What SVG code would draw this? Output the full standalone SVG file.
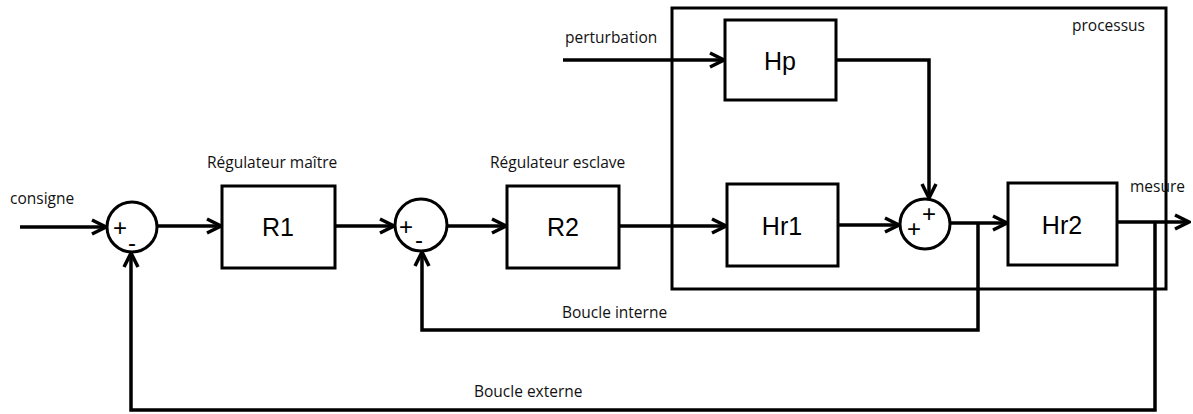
<svg xmlns="http://www.w3.org/2000/svg" width="1193" height="414" viewBox="0 0 1193 414">
<style>
.box{fill:#fff;stroke:#000;stroke-width:3}
.sum{fill:#fff;stroke:#000;stroke-width:3}
.ln{fill:none;stroke:#000;stroke-width:3.5;stroke-linejoin:miter}
.lbl{font-family:"Liberation Sans",Arial,sans-serif;font-size:25px;fill:#000;text-anchor:middle}
.sm{font-family:"Open Sans","Liberation Sans",sans-serif;font-size:15.5px;fill:#111}
.sg{font-family:"Liberation Sans",Arial,sans-serif;font-size:24px;fill:#000;text-anchor:middle}
</style>
<defs>
<marker id="arr" viewBox="-16 -9 18 18" markerWidth="18" markerHeight="18" refX="0" refY="0" orient="auto" markerUnits="userSpaceOnUse">
<path d="M-14,-7 L0,0 L-14,7" fill="none" stroke="#000" stroke-width="3.5"/>
</marker>
</defs>
<rect width="1193" height="414" fill="#fff"/>
<g id="processus">
<rect x="672" y="8" width="494" height="281" fill="none" stroke="#000" stroke-width="3"/>
<text class="sm" x="1072" y="31">processus</text>
</g>
<g id="connectors">
<path class="ln" d="M20,227 L106,227" marker-end="url(#arr)"/>
<path class="ln" d="M157,226 L221,226" marker-end="url(#arr)"/>
<path class="ln" d="M336,226 L394,226" marker-end="url(#arr)"/>
<path class="ln" d="M448,226 L506,226" marker-end="url(#arr)"/>
<path class="ln" d="M620,226 L726,226" marker-end="url(#arr)"/>
<path class="ln" d="M839,225 L899,225" marker-end="url(#arr)"/>
<path class="ln" d="M563,60 L724,60" marker-end="url(#arr)"/>
<path class="ln" d="M837,60 L929,60 L929,198" marker-end="url(#arr)"/>
<path class="ln" d="M951,223 L1007,223" marker-end="url(#arr)"/>
<path class="ln" d="M1118,222 L1189,222" marker-end="url(#arr)"/>
<path class="ln" d="M978,223 L978,330 L422,330 L422,252" marker-end="url(#arr)"/>
<path class="ln" d="M1155,222 L1155,410 L131,410 L131,253" marker-end="url(#arr)"/>
</g>
<g id="sum1">
<circle class="sum" cx="132" cy="227" r="25"/>
<text class="sg" x="120" y="236">+</text>
<text class="sg" x="132" y="251">-</text>
</g>
<g id="sum2">
<circle class="sum" cx="421" cy="225" r="26"/>
<text class="sg" x="406" y="235">+</text>
<text class="sg" x="419" y="248">-</text>
</g>
<g id="sum3">
<circle class="sum" cx="925" cy="224" r="25"/>
<text class="sg" x="914" y="237">+</text>
<text class="sg" x="929" y="222">+</text>
</g>
<g id="R1">
<rect class="box" x="222" y="186" width="113" height="82"/>
<text class="lbl" x="278" y="236">R1</text>
</g>
<g id="R2">
<rect class="box" x="507" y="186" width="112" height="82"/>
<text class="lbl" x="563" y="236">R2</text>
</g>
<g id="Hr1">
<rect class="box" x="727" y="184" width="111" height="82"/>
<text class="lbl" x="782" y="235">Hr1</text>
</g>
<g id="Hp">
<rect class="box" x="725" y="20" width="111" height="80"/>
<text class="lbl" x="780" y="70">Hp</text>
</g>
<g id="Hr2">
<rect class="box" x="1008" y="183" width="109" height="82"/>
<text class="lbl" x="1062" y="234">Hr2</text>
</g>
<g id="labels">
<text class="sm" x="10" y="204">consigne</text>
<text class="sm" x="207" y="168">Régulateur maître</text>
<text class="sm" x="490" y="168">Régulateur esclave</text>
<text class="sm" x="565" y="43">perturbation</text>
<text class="sm" x="1130" y="192">mesure</text>
<text class="sm" x="562" y="318">Boucle interne</text>
<text class="sm" x="474" y="397">Boucle externe</text>
</g>
</svg>
